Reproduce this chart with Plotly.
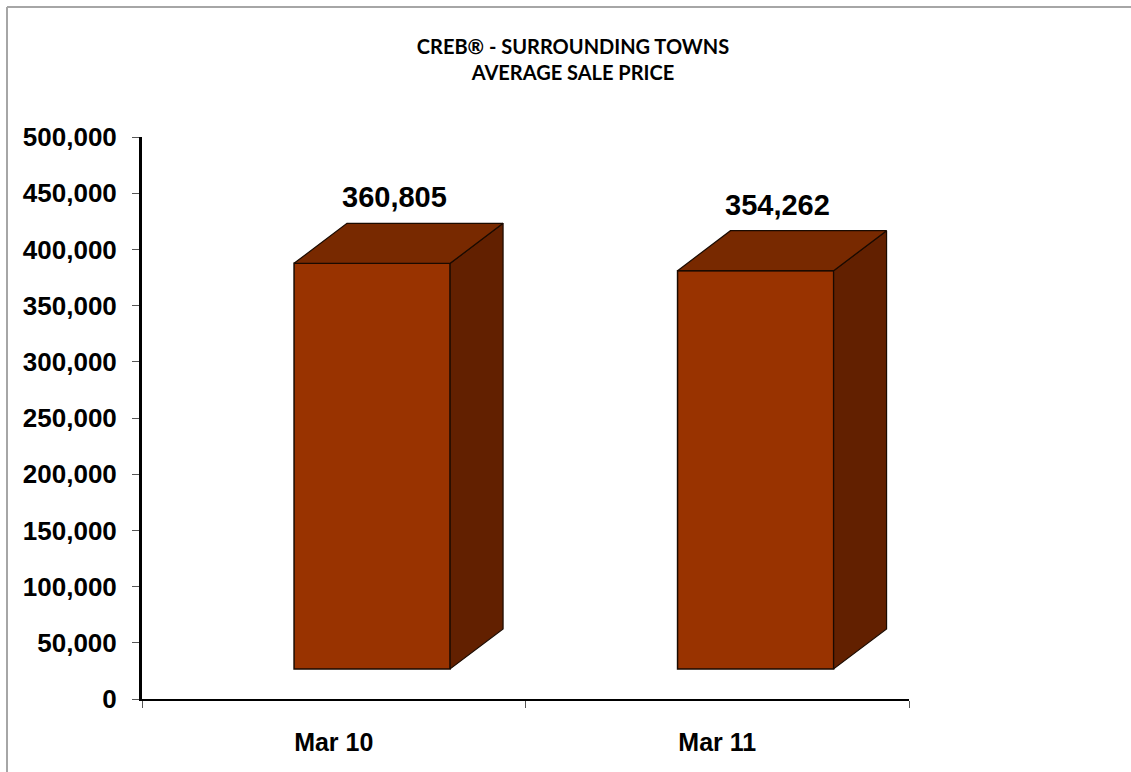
import plotly.graph_objects as go

# Data
categories = ["Mar 10", "Mar 11"]
avg_price = [360805, 354262]
y_ticks = list(range(0, 500001, 50000))

# Styling of the pseudo-3D columns
FRONT = "#993300"
TOP = "#782900"
SIDE = "#622000"
EDGE = "#1a0a00"
shift = 0.100      # front face offset from category centre (x units)
width = 0.407      # front face width (x units)
dx = 0.138         # depth offset, x units
dy = 35600         # depth offset, y units
lift = 26800       # floor of the front face above the axis

fig = go.Figure()

idx = list(range(len(categories)))
for i, v in zip(idx, avg_price):
    xl = i + shift - width / 2
    xr = i + shift + width / 2
    top_front = v + lift
    # right side face
    fig.add_trace(go.Scatter(
        x=[xr, xr + dx, xr + dx, xr, xr],
        y=[lift, lift + dy, top_front + dy, top_front, lift],
        fill="toself", fillcolor=SIDE, mode="lines",
        line=dict(color=EDGE, width=1.2), hoverinfo="skip", showlegend=False))
    # top face
    fig.add_trace(go.Scatter(
        x=[xl, xr, xr + dx, xl + dx, xl],
        y=[top_front, top_front, top_front + dy, top_front + dy, top_front],
        fill="toself", fillcolor=TOP, mode="lines",
        line=dict(color=EDGE, width=1.2), hoverinfo="skip", showlegend=False))

# front faces
fig.add_trace(go.Bar(
    x=[i + shift for i in idx], y=avg_price, base=[lift] * len(idx),
    width=width, marker=dict(color=FRONT, line=dict(color=EDGE, width=1.5)),
    showlegend=False, hovertext=categories))

# value labels above each column
for i, v in zip(idx, avg_price):
    fig.add_annotation(
        x=i + 0.158, y=v + lift + dy, xref="x", yref="y",
        text=f"{v:,}", showarrow=False, yanchor="middle", yshift=26,
        font=dict(family="Liberation Sans, Arial", size=29, color="black", weight="bold"))

# outer frame: left and top edges
frame_x = (7 - 142) / 767
frame_y = (699 - 7) / 562
fig.add_shape(type="line", xref="paper", yref="paper",
              x0=frame_x, x1=frame_x, y0=-0.2, y1=frame_y,
              line=dict(color="#A6A6A6", width=2), layer="below")
fig.add_shape(type="line", xref="paper", yref="paper",
              x0=frame_x, x1=1.4, y0=frame_y, y1=frame_y,
              line=dict(color="#A6A6A6", width=2), layer="below")

fig.update_layout(
    width=1131, height=772,
    margin=dict(l=142, r=222, t=137, b=73),
    paper_bgcolor="white", plot_bgcolor="white",
    barmode="overlay",
    title=dict(
        text="CREB® - SURROUNDING TOWNS<br>AVERAGE SALE PRICE",
        xref="container", yref="container", x=573 / 1131, y=1 - 54 / 772,
        xanchor="center", yanchor="middle",
        font=dict(family="Lato, Liberation Sans", size=20, color="black", weight="bold")),
    xaxis=dict(
        range=[-0.5, 1.5], tickvals=idx, ticktext=categories, ticks="",
        showgrid=False, zeroline=False, showline=True, linecolor="black", linewidth=2,
        ticklabelstandoff=20,
        tickfont=dict(family="Liberation Sans, Arial", size=25, color="black", weight="bold"),
        minor=dict(tickvals=[-0.5, 0.5, 1.5], ticks="outside", ticklen=7,
                   tickcolor="#555555", tickwidth=1, showgrid=False),
        fixedrange=True),
    yaxis=dict(
        range=[0, 500000], tickvals=y_ticks, tickformat=",", ticks="outside",
        ticklen=7, tickcolor="#555555", tickwidth=1,
        showgrid=False, zeroline=False, showline=True, linecolor="black", linewidth=3,
        ticklabelstandoff=10,
        tickfont=dict(family="Liberation Sans, Arial", size=26, color="black", weight="bold"),
        fixedrange=True),
)

fig.write_html("out.html")
